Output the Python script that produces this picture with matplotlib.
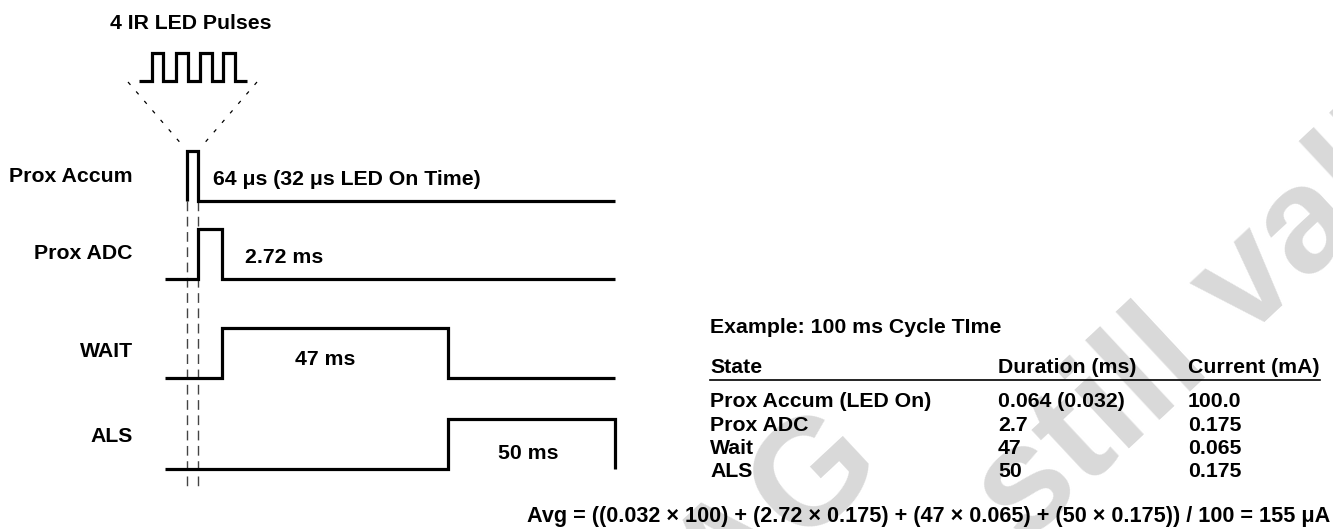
import matplotlib.pyplot as plt

plt.rcParams['font.family'] = ['Liberation Sans', 'DejaVu Sans']
plt.rcParams['font.weight'] = 'bold'

# timing diagram signals (schematic, not to scale)
signal_names = ['Prox Accum', 'Prox ADC', 'WAIT', 'ALS']
duration_labels = ['64 μs (32 μs LED On Time)', '2.72 ms', '47 ms', '50 ms']
# edge times in diagram units: trace start, accum rise, accum fall / adc rise,
# adc fall / wait rise, wait fall / als rise, cycle end
edges = [0, 22, 33, 57, 283, 450]
high_spans = [(1, 2), (2, 3), (3, 4), (4, 5)]
trace_start = [1, 0, 0, 0]

# zoomed view of the 4 IR LED pulses (diagram units)
led_rise = [13, 37, 61, 84]
led_fall = [24, 49, 73, 96]
led_end = 108

# example table
table_title = 'Example: 100 ms Cycle TIme'
table_header = ['State', 'Duration (ms)', 'Current (mA)']
table_state = ['Prox Accum (LED On)', 'Prox ADC', 'Wait', 'ALS']
table_duration = ['0.064 (0.032)', '2.7', '47', '50']
table_current = ['100.0', '0.175', '0.065', '0.175']
formula = ('Avg = ((0.032 × 100) + (2.72 × 0.175) + (47 × 0.065) + '
           '(50 × 0.175)) / 100 = 155 μA')

fig = plt.figure(figsize=(13.33, 5.29), dpi=100)
ax = fig.add_axes([0, 0, 1, 1])
ax.set_xlim(0, 1333)
ax.set_ylim(529, 0)
ax.axis('off')

fs = 15.3
lw = 2.3
x0 = 165          # where diagram time 0 sits
row_low = [201, 279, 378, 469]
amp = 50
label_base = [182, 259, 357, 442]
dur_pos = [(213, 185), (245, 263), (295, 365), (498, 459)]

for i, name in enumerate(signal_names):
    a, b = high_spans[i]
    lo, hi = row_low[i], row_low[i] - amp
    xs = [edges[trace_start[i]], edges[a], edges[a], edges[b], edges[b], edges[-1]]
    ys = [lo, lo, hi, hi, lo, lo]
    if i == len(signal_names) - 1:
        xs, ys = xs[:-1], ys[:-1]
    ax.plot([x0 + v for v in xs], ys, color='black', lw=lw,
            solid_joinstyle='miter', solid_capstyle='butt', zorder=3)
    ax.text(133, label_base[i], name, ha='right', va='baseline', fontsize=fs, zorder=4)
    ax.text(dur_pos[i][0], dur_pos[i][1], duration_labels[i], ha='left',
            va='baseline', fontsize=fs, zorder=4)

# dashed guides below the prox accum pulse
for e in edges[1:3]:
    ax.plot([x0 + e, x0 + e], [row_low[0], 488], color='#444444', lw=1.0,
            dashes=(7, 4), zorder=2)

# LED pulse train
px0, pb, pt = 139, 81, 53
xs, ys = [0], [pb]
for r, f in zip(led_rise, led_fall):
    xs += [r, r, f, f]
    ys += [pb, pt, pt, pb]
xs.append(led_end)
ys.append(pb)
ax.plot([px0 + v for v in xs], ys, color='black', lw=lw,
        solid_joinstyle='miter', solid_capstyle='butt', zorder=3)
ax.text(110, 29, '4 IR LED Pulses', ha='left', va='baseline', fontsize=fs)

# expansion lines from the pulse train down to the prox accum pulse
ax.plot([128, 183], [82, 146], color='black', lw=0.9, dashes=(3, 7))
ax.plot([257, 202], [82, 146], color='black', lw=0.9, dashes=(3, 7))

# table
tx = [710, 998, 1188]
ax.text(tx[0], 333, table_title, ha='left', va='baseline', fontsize=fs, zorder=4)
for x, h in zip(tx, table_header):
    ax.text(x, 373, h, ha='left', va='baseline', fontsize=fs, zorder=4)
ax.plot([710, 1320], [380, 380], color='black', lw=1.2, zorder=3)
row_base = [407, 431, 454, 477]
for j in range(len(table_state)):
    for x, col in zip(tx, [table_state, table_duration, table_current]):
        ax.text(x, row_base[j], col[j], ha='left', va='baseline', fontsize=fs, zorder=4)
ax.text(1330, 522, formula, ha='right', va='baseline', fontsize=15.6, zorder=4)

# watermark
wm = dict(rotation=43, rotation_mode='anchor', va='baseline', fontsize=108,
          color='#d9d9d9', zorder=0)
ax.text(888, 470, 'ams AG', ha='right', **wm)
ax.text(1024, 546, 'still valid', ha='left', **wm)

fig.savefig('out.png', dpi=100)
